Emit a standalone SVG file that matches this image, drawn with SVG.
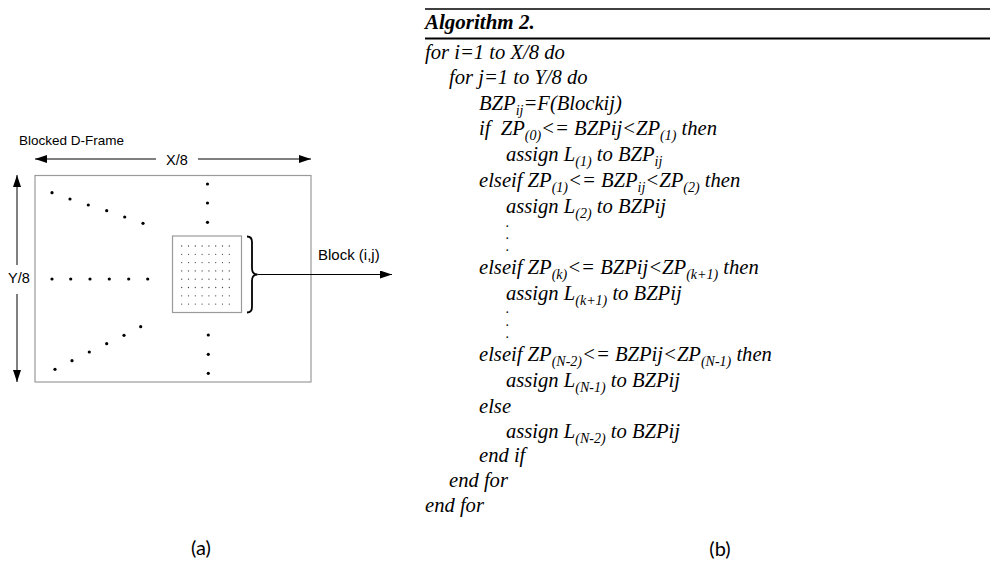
<svg xmlns="http://www.w3.org/2000/svg" width="1000" height="568" viewBox="0 0 1000 568">
<style>
.sans{font-family:"Liberation Sans",Arial,sans-serif;fill:#000}
.alg{font-family:"Liberation Serif","Times New Roman",serif;font-style:italic;font-size:20.6px;fill:#000;white-space:pre}
.sub{font-size:14px}
.vd{font-family:"Liberation Serif","Times New Roman",serif;font-size:10px;font-weight:bold;fill:#000}
.frame{fill:none;stroke:#9a9a9a;stroke-width:1.2}
.ln{stroke:#000;stroke-width:1;fill:none}
.dot{fill:#000}
.sd{fill:#444}
.cap{font-family:Lato,"Open Sans",sans-serif;font-size:20px;fill:#000}
</style>
<defs>
<marker id="ah" viewBox="0 0 12 8" refX="12" refY="4" markerWidth="12" markerHeight="8" markerUnits="userSpaceOnUse" orient="auto-start-reverse">
<path d="M0,0 L12,4 L0,8 z" fill="#000"/>
</marker>
</defs>
<rect width="1000" height="568" fill="#fff"/>

<g id="frame">
<text class="sans" x="19" y="145" font-size="13.5">Blocked D-Frame</text>
<rect class="frame" x="35" y="175.5" width="276" height="206.5"/>
<g id="dots-top">
<circle class="dot" cx="52" cy="192.7" r="1.6"/><circle class="dot" cx="70" cy="199" r="1.6"/><circle class="dot" cx="88.3" cy="205" r="1.6"/><circle class="dot" cx="106.7" cy="210.7" r="1.6"/><circle class="dot" cx="124.7" cy="217" r="1.6"/><circle class="dot" cx="143" cy="223.3" r="1.6"/>
</g>
<g id="dots-mid">
<circle class="dot" cx="52" cy="279" r="1.6"/><circle class="dot" cx="70.7" cy="279" r="1.6"/><circle class="dot" cx="90" cy="279" r="1.6"/><circle class="dot" cx="109.3" cy="279" r="1.6"/><circle class="dot" cx="128.7" cy="279" r="1.6"/><circle class="dot" cx="147.7" cy="279" r="1.6"/>
</g>
<g id="dots-bottom">
<circle class="dot" cx="55" cy="369.3" r="1.6"/><circle class="dot" cx="72" cy="360.7" r="1.6"/><circle class="dot" cx="89.3" cy="352" r="1.6"/><circle class="dot" cx="106.7" cy="343.7" r="1.6"/><circle class="dot" cx="124" cy="335.3" r="1.6"/><circle class="dot" cx="140.7" cy="326.7" r="1.6"/>
</g>
<g id="dots-vertical">
<circle class="dot" cx="207.5" cy="184" r="1.6"/><circle class="dot" cx="207.5" cy="203" r="1.6"/><circle class="dot" cx="207.5" cy="222.3" r="1.6"/>
<circle class="dot" cx="208.3" cy="335" r="1.6"/><circle class="dot" cx="208.3" cy="354.3" r="1.6"/><circle class="dot" cx="208.3" cy="373.3" r="1.6"/>
</g>
</g>

<g id="block">
<rect class="frame" x="172.5" y="236" width="69" height="76.5"/>
<g id="block-grid">
<circle class="sd" cx="181.7" cy="246" r="0.65"/><circle class="sd" cx="188.5" cy="246" r="0.65"/><circle class="sd" cx="195.3" cy="246" r="0.65"/><circle class="sd" cx="202.1" cy="246" r="0.65"/><circle class="sd" cx="208.9" cy="246" r="0.65"/><circle class="sd" cx="215.7" cy="246" r="0.65"/><circle class="sd" cx="222.5" cy="246" r="0.65"/><circle class="sd" cx="229.3" cy="246" r="0.65"/>
<circle class="sd" cx="181.7" cy="254.3" r="0.65"/><circle class="sd" cx="188.5" cy="254.3" r="0.65"/><circle class="sd" cx="195.3" cy="254.3" r="0.65"/><circle class="sd" cx="202.1" cy="254.3" r="0.65"/><circle class="sd" cx="208.9" cy="254.3" r="0.65"/><circle class="sd" cx="215.7" cy="254.3" r="0.65"/><circle class="sd" cx="222.5" cy="254.3" r="0.65"/><circle class="sd" cx="229.3" cy="254.3" r="0.65"/>
<circle class="sd" cx="181.7" cy="262.6" r="0.65"/><circle class="sd" cx="188.5" cy="262.6" r="0.65"/><circle class="sd" cx="195.3" cy="262.6" r="0.65"/><circle class="sd" cx="202.1" cy="262.6" r="0.65"/><circle class="sd" cx="208.9" cy="262.6" r="0.65"/><circle class="sd" cx="215.7" cy="262.6" r="0.65"/><circle class="sd" cx="222.5" cy="262.6" r="0.65"/><circle class="sd" cx="229.3" cy="262.6" r="0.65"/>
<circle class="sd" cx="181.7" cy="270.9" r="0.65"/><circle class="sd" cx="188.5" cy="270.9" r="0.65"/><circle class="sd" cx="195.3" cy="270.9" r="0.65"/><circle class="sd" cx="202.1" cy="270.9" r="0.65"/><circle class="sd" cx="208.9" cy="270.9" r="0.65"/><circle class="sd" cx="215.7" cy="270.9" r="0.65"/><circle class="sd" cx="222.5" cy="270.9" r="0.65"/><circle class="sd" cx="229.3" cy="270.9" r="0.65"/>
<circle class="sd" cx="181.7" cy="279.2" r="0.65"/><circle class="sd" cx="188.5" cy="279.2" r="0.65"/><circle class="sd" cx="195.3" cy="279.2" r="0.65"/><circle class="sd" cx="202.1" cy="279.2" r="0.65"/><circle class="sd" cx="208.9" cy="279.2" r="0.65"/><circle class="sd" cx="215.7" cy="279.2" r="0.65"/><circle class="sd" cx="222.5" cy="279.2" r="0.65"/><circle class="sd" cx="229.3" cy="279.2" r="0.65"/>
<circle class="sd" cx="181.7" cy="287.5" r="0.65"/><circle class="sd" cx="188.5" cy="287.5" r="0.65"/><circle class="sd" cx="195.3" cy="287.5" r="0.65"/><circle class="sd" cx="202.1" cy="287.5" r="0.65"/><circle class="sd" cx="208.9" cy="287.5" r="0.65"/><circle class="sd" cx="215.7" cy="287.5" r="0.65"/><circle class="sd" cx="222.5" cy="287.5" r="0.65"/><circle class="sd" cx="229.3" cy="287.5" r="0.65"/>
<circle class="sd" cx="181.7" cy="295.8" r="0.65"/><circle class="sd" cx="188.5" cy="295.8" r="0.65"/><circle class="sd" cx="195.3" cy="295.8" r="0.65"/><circle class="sd" cx="202.1" cy="295.8" r="0.65"/><circle class="sd" cx="208.9" cy="295.8" r="0.65"/><circle class="sd" cx="215.7" cy="295.8" r="0.65"/><circle class="sd" cx="222.5" cy="295.8" r="0.65"/><circle class="sd" cx="229.3" cy="295.8" r="0.65"/>
<circle class="sd" cx="181.7" cy="304.1" r="0.65"/><circle class="sd" cx="188.5" cy="304.1" r="0.65"/><circle class="sd" cx="195.3" cy="304.1" r="0.65"/><circle class="sd" cx="202.1" cy="304.1" r="0.65"/><circle class="sd" cx="208.9" cy="304.1" r="0.65"/><circle class="sd" cx="215.7" cy="304.1" r="0.65"/><circle class="sd" cx="222.5" cy="304.1" r="0.65"/><circle class="sd" cx="229.3" cy="304.1" r="0.65"/>
</g>
<path d="M247,236.5 Q252,236.5 252,242 L252,268 Q252,274.5 257.5,274.5 Q252,274.5 252,281 L252,307 Q252,312.5 247,312.5" fill="none" stroke="#000" stroke-width="1.8"/>
</g>

<g id="labels">
<text class="sans" x="177" y="164.5" font-size="14.5" text-anchor="middle">X/8</text>
<text class="sans" x="19" y="283" font-size="14.5" text-anchor="middle">Y/8</text>
<text class="sans" x="318" y="260" font-size="15">Block (i,j)</text>
</g>

<g id="connectors">
<line class="ln" x1="35" y1="159" x2="156" y2="159" marker-start="url(#ah)"/>
<line class="ln" x1="198" y1="159" x2="311" y2="159" marker-end="url(#ah)"/>
<line class="ln" x1="17" y1="175" x2="17" y2="265" marker-start="url(#ah)"/>
<line class="ln" x1="17" y1="294" x2="17" y2="382" marker-end="url(#ah)"/>
<line class="ln" x1="257.5" y1="274.5" x2="392" y2="274.5" marker-end="url(#ah)"/>
</g>

<g id="algorithm">
<line x1="425" y1="9" x2="990" y2="9" stroke="#000" stroke-width="1.6"/>
<text x="425" y="29" font-family="'Liberation Serif','Times New Roman',serif" font-style="italic" font-weight="bold" font-size="21">Algorithm 2.</text>
<line x1="425" y1="38.5" x2="990" y2="38.5" stroke="#000" stroke-width="2"/>
<text class="alg" x="425" y="59">for i=1 to X/8 do</text>
<text class="alg" x="449" y="84">for j=1 to Y/8 do</text>
<text class="alg" x="479" y="110">BZP<tspan class="sub" dy="5">ij</tspan><tspan dy="-5">=F(Blockij)</tspan></text>
<text class="alg" x="479" y="135">if  ZP<tspan class="sub" dy="5">(0)</tspan><tspan dy="-5">&lt;= BZPij&lt;ZP</tspan><tspan class="sub" dy="5">(1)</tspan><tspan dy="-5"> then</tspan></text>
<text class="alg" x="506" y="161">assign L<tspan class="sub" dy="5">(1)</tspan><tspan dy="-5"> to BZP</tspan><tspan class="sub" dy="5">ij</tspan></text>
<text class="alg" x="479" y="187">elseif ZP<tspan class="sub" dy="5">(1)</tspan><tspan dy="-5">&lt;= BZP</tspan><tspan class="sub" dy="5">ij</tspan><tspan dy="-5">&lt;ZP</tspan><tspan class="sub" dy="5">(2)</tspan><tspan dy="-5"> then</tspan></text>
<text class="alg" x="506" y="213">assign L<tspan class="sub" dy="5">(2)</tspan><tspan dy="-5"> to BZPij</tspan></text>
<text class="vd" x="506" y="227">.</text>
<text class="vd" x="506" y="239">.</text>
<text class="vd" x="506" y="251">.</text>
<text class="alg" x="479" y="274">elseif ZP<tspan class="sub" dy="5">(k)</tspan><tspan dy="-5">&lt;= BZPij&lt;ZP</tspan><tspan class="sub" dy="5">(k+1)</tspan><tspan dy="-5"> then</tspan></text>
<text class="alg" x="506" y="300">assign L<tspan class="sub" dy="5">(k+1)</tspan><tspan dy="-5"> to BZPij</tspan></text>
<text class="vd" x="506" y="313">.</text>
<text class="vd" x="506" y="325.5">.</text>
<text class="vd" x="506" y="338">.</text>
<text class="alg" x="479" y="361">elseif ZP<tspan class="sub" dy="5">(N-2)</tspan><tspan dy="-5">&lt;= BZPij&lt;ZP</tspan><tspan class="sub" dy="5">(N-1)</tspan><tspan dy="-5"> then</tspan></text>
<text class="alg" x="506" y="387">assign L<tspan class="sub" dy="5">(N-1)</tspan><tspan dy="-5"> to BZPij</tspan></text>
<text class="alg" x="479" y="413">else</text>
<text class="alg" x="506" y="438">assign L<tspan class="sub" dy="5">(N-2)</tspan><tspan dy="-5"> to BZPij</tspan></text>
<text class="alg" x="479" y="462">end if</text>
<text class="alg" x="449" y="487">end for</text>
<text class="alg" x="425" y="512">end for</text>
</g>

<g id="captions">
<text class="cap" x="201" y="555" text-anchor="middle">(a)</text>
<text class="cap" x="720" y="556" text-anchor="middle">(b)</text>
</g>
</svg>
